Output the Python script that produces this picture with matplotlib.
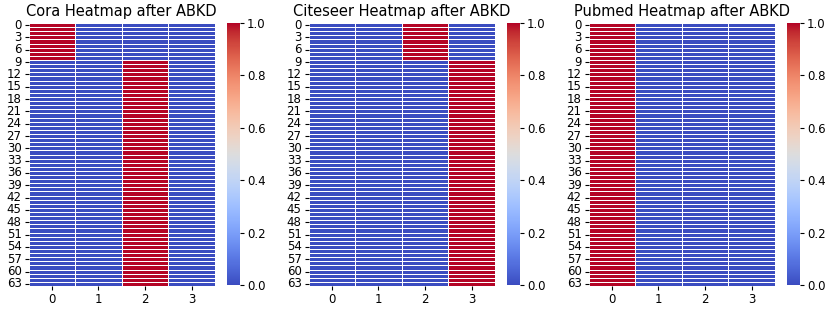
import numpy as np
import matplotlib
matplotlib.use("Agg")
import matplotlib.pyplot as plt
import seaborn as sns

n_rows = 64
n_cols = 4
titles = ["Cora Heatmap after ABKD", "Citeseer Heatmap after ABKD", "Pubmed Heatmap after ABKD"]
# (row_start, row_end_exclusive, hot column) segments per dataset
cora_segments = [(0, 9, 0), (9, 64, 2)]
citeseer_segments = [(0, 9, 2), (9, 64, 3)]
pubmed_segments = [(0, 64, 0)]
all_segments = [cora_segments, citeseer_segments, pubmed_segments]


def build(segments):
    m = np.zeros((n_rows, n_cols))
    for r0, r1, c in segments:
        m[r0:r1, c] = 1.0
    return m


W, H = 831, 311
fig = plt.figure(figsize=(W / 100, H / 100), dpi=100)

for i, (title, segs) in enumerate(zip(titles, all_segments)):
    off = 280 * i
    ax = fig.add_axes([(28.5 + off) / W, (H - 286) / H, 186.5 / W, 263 / H])
    cax = fig.add_axes([(227 + off) / W, (H - 285) / H, 13 / W, 262 / H])
    sns.heatmap(build(segs), ax=ax, cbar_ax=cax, cmap="coolwarm", vmin=0, vmax=1,
                linewidths=0.4, linecolor="white", yticklabels=3)
    ax.set_title(title, fontsize=10.5, pad=5)
    ax.tick_params(labelsize=8.5, length=3, pad=2)
    ax.tick_params(axis="y", rotation=0)
    cax.tick_params(labelsize=8.5, length=3, pad=2)
    for s in cax.spines.values():
        s.set_visible(False)

fig.savefig("out.png", dpi=100)
